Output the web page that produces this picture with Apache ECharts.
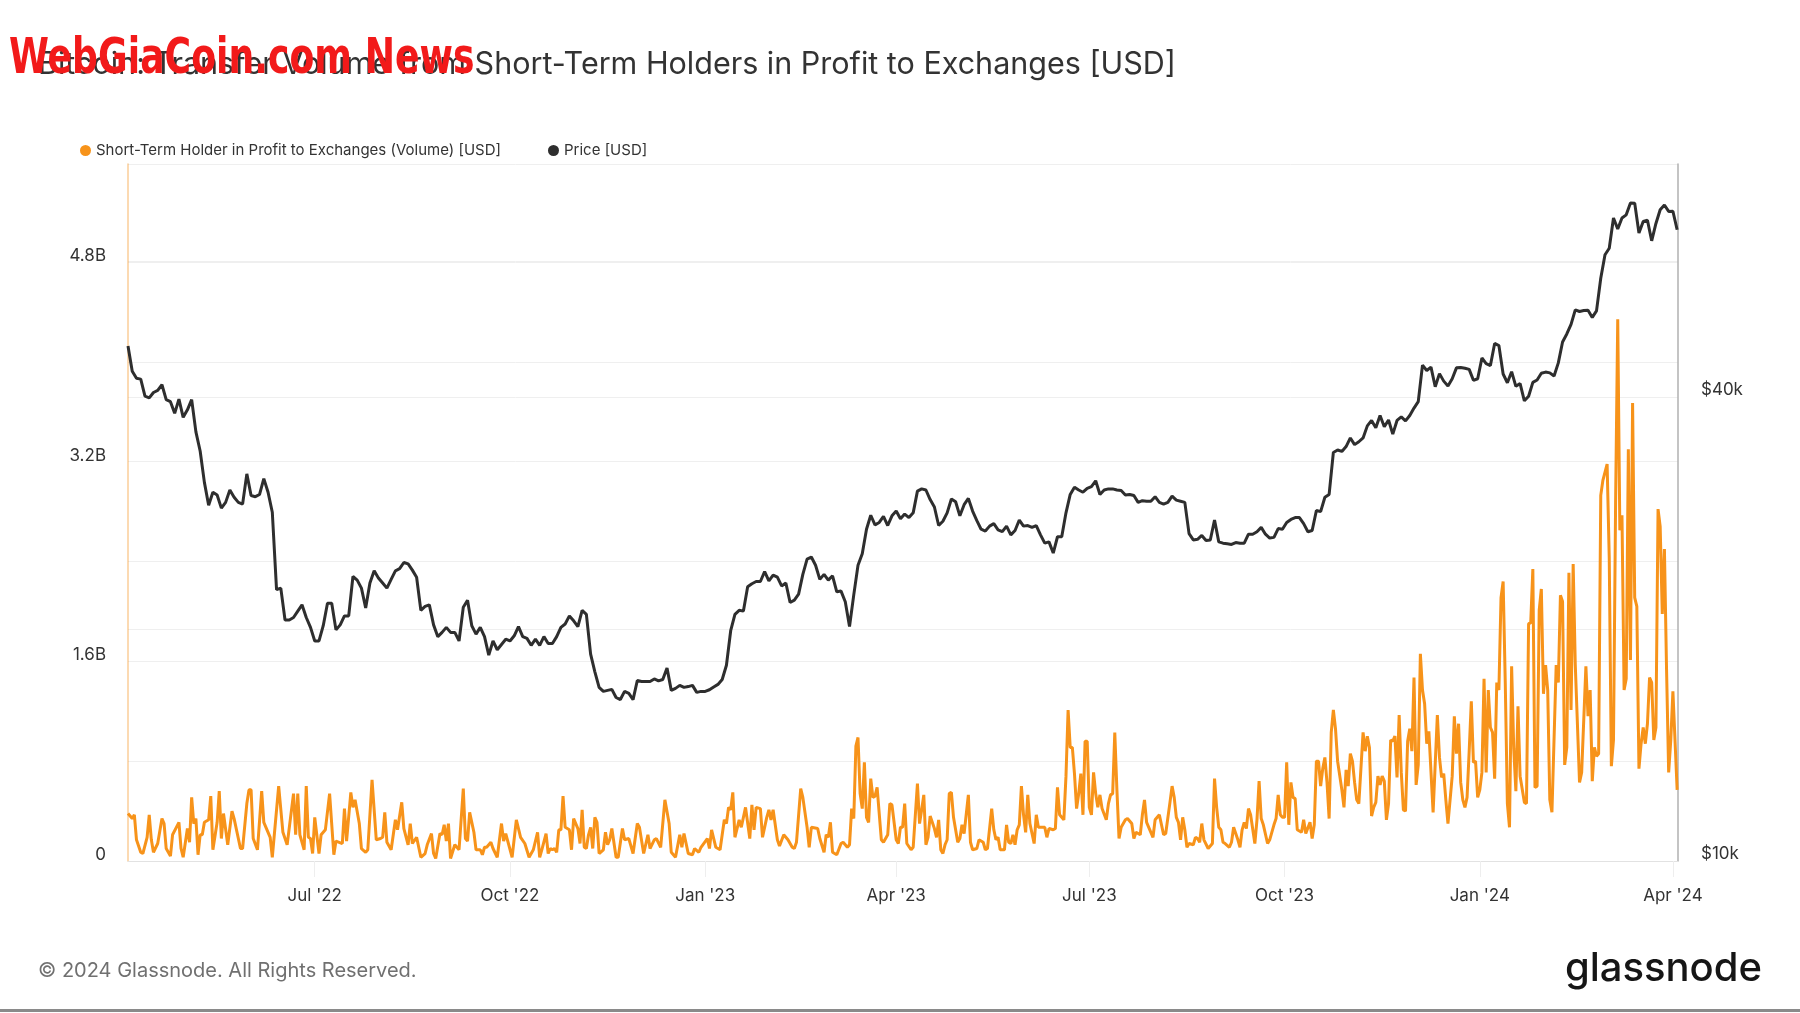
<!DOCTYPE html>
<html>
<head>
<meta charset="utf-8">
<script src="https://cdn.jsdelivr.net/npm/echarts@6/dist/echarts.min.js"></script>
<style>
html,body{margin:0;padding:0;background:#ffffff;}
#chart{width:1800px;height:1013px;}
</style>
</head>
<body>
<div id="chart"></div>
<script>
// ---------------- DATA ----------------
const chartTitle = 'Bitcoin: Transfer Volume from Short-Term Holders in Profit to Exchanges [USD]';
const seriesNames = ['Short-Term Holder in Profit to Exchanges (Volume) [USD]', 'Price [USD]'];
const startDate = '2022-04-04';
const endDayOffset = 730.4;
const xTickDates = ['2022-07-01','2022-10-01','2023-01-01','2023-04-01','2023-07-01','2023-10-01','2024-01-01','2024-04-01'];
const xTickLabels = ["Jul '22","Oct '22","Jan '23","Apr '23","Jul '23","Oct '23","Jan '24","Apr '24"];
const volTickValuesB = [0, 1.6, 3.2, 4.8];
const volTickLabels = ['0', '1.6B', '3.2B', '4.8B'];
const priceTickValues = [10000, 40000];
const priceTickLabels = ['$10k', '$40k'];
const priceGridValues = [10000, 20000, 40000, 60000];

// Short-term holder in profit -> exchanges volume, [day offset from start, billions USD]
const volumeByDay = [
[0,0.38],[2,0.34],[3,0.37],[4,0.17],[6,0.07],[7,0.06],[9,0.19],[10,0.37],[11,0.17],[12,0.07],
[14,0.14],[16,0.34],[17,0.30],[18,0.10],[20,0.04],[21,0.21],[24,0.31],[25,0.10],[26,0.03],[28,0.26],
[29,0.15],[30,0.51],[31,0.30],[32,0.34],[33,0.05],[34,0.21],[35,0.21],[36,0.31],[38,0.33],[39,0.52],
[40,0.09],[42,0.31],[43,0.56],[44,0.18],[45,0.38],[47,0.13],[49,0.40],[50,0.34],[53,0.10],[54,0.10],
[56,0.46],[57,0.57],[58,0.57],[59,0.18],[61,0.09],[63,0.56],[64,0.31],[65,0.27],[67,0.19],[68,0.03],
[71,0.60],[73,0.23],[75,0.13],[78,0.54],[79,0.21],[80,0.54],[81,0.21],[83,0.09],[84,0.60],[85,0.19],
[86,0.18],[87,0.06],[88,0.35],[90,0.06],[91,0.21],[93,0.25],[95,0.54],[97,0.05],[98,0.16],[101,0.14],
[102,0.42],[103,0.16],[105,0.55],[106,0.43],[107,0.49],[109,0.30],[110,0.10],[112,0.07],[113,0.09],[115,0.65],
[117,0.17],[119,0.18],[120,0.19],[121,0.39],[122,0.15],[124,0.09],[126,0.33],[127,0.25],[129,0.47],[130,0.26],
[132,0.13],[133,0.30],[134,0.14],[136,0.19],[138,0.03],[140,0.06],[141,0.13],[143,0.22],[144,0.06],[145,0.02],
[147,0.22],[148,0.21],[149,0.29],[150,0.16],[151,0.30],[152,0.02],[154,0.13],[156,0.09],[158,0.58],[159,0.18],
[160,0.16],[161,0.39],[163,0.23],[164,0.09],[166,0.09],[167,0.05],[168,0.11],[169,0.11],[171,0.15],[172,0.10],
[174,0.03],[176,0.30],[177,0.16],[178,0.22],[181,0.03],[183,0.33],[185,0.19],[187,0.14],
[189,0.03],[191,0.09],[193,0.23],[194,0.03],[195,0.09],[197,0.22],[198,0.06],[199,0.10],[200,0.09],[201,0.10],
[202,0.07],[203,0.25],[204,0.25],[205,0.52],[206,0.27],[208,0.25],[209,0.09],[210,0.34],[212,0.26],[213,0.14],
[214,0.41],[215,0.11],[216,0.10],[217,0.21],[218,0.27],[219,0.10],[220,0.35],[221,0.31],[222,0.06],[224,0.09],
[225,0.23],[226,0.13],[227,0.17],[228,0.26],[230,0.03],[231,0.03],[233,0.26],[234,0.17],[236,0.18],[238,0.06],
[240,0.30],[241,0.27],[243,0.06],[245,0.21],[246,0.10],[248,0.17],[249,0.18],[251,0.11],[253,0.49],[255,0.30],
[256,0.07],[258,0.03],[260,0.21],[261,0.11],[262,0.22],[264,0.06],[266,0.05],[267,0.10],[269,0.07],[270,0.11],
[273,0.18],[274,0.10],[275,0.25],[277,0.11],[279,0.09],[281,0.33],[282,0.30],[283,0.43],[284,0.41],[285,0.55],
[286,0.19],[288,0.33],[289,0.27],[291,0.43],[293,0.18],[294,0.45],[295,0.25],[296,0.43],[298,0.42],[299,0.19],
[301,0.35],[302,0.41],[303,0.33],[304,0.41],[306,0.17],[307,0.12],[309,0.21],[311,0.17],[313,0.11],[314,0.10],
[315,0.15],[317,0.58],[318,0.51],[320,0.27],[321,0.11],[322,0.27],[325,0.26],[326,0.18],[328,0.07],[329,0.21],
[330,0.19],[331,0.31],[332,0.07],[334,0.05],[336,0.14],[337,0.15],[339,0.11],[340,0.13],[341,0.42],[342,0.34],
[343,0.92],[344,0.99],[345,0.54],[346,0.42],[347,0.79],[348,0.35],[349,0.31],[350,0.66],[351,0.51],[352,0.52],
[353,0.59],[355,0.17],[356,0.15],[358,0.21],[359,0.46],[360,0.45],[362,0.17],[363,0.14],[364,0.27],[365,0.27],
[366,0.46],[367,0.14],[369,0.09],[370,0.11],[372,0.62],[373,0.30],
[374,0.41],[375,0.53],[376,0.13],[377,0.19],[378,0.36],[380,0.26],[381,0.19],[382,0.33],[383,0.09],[384,0.06],
[385,0.13],[386,0.17],[387,0.54],[388,0.55],[389,0.35],[391,0.15],[392,0.18],[393,0.29],[394,0.22],[396,0.53],
[397,0.15],[398,0.09],[400,0.10],[401,0.17],[403,0.15],[404,0.09],[405,0.10],[407,0.42],[408,0.25],[409,0.17],
[410,0.19],[411,0.09],[413,0.09],[414,0.29],[415,0.15],[416,0.14],[417,0.21],[418,0.13],[419,0.25],[420,0.29],
[421,0.60],[422,0.37],[423,0.23],[424,0.53],[425,0.30],[427,0.14],[428,0.37],[429,0.27],[430,0.27],[432,0.27],
[433,0.19],[434,0.26],[436,0.25],[437,0.26],[438,0.59],[439,0.37],[441,0.33],[442,0.68],[443,1.21],[444,0.91],
[445,0.91],[446,0.70],[447,0.42],[448,0.54],[449,0.70],[450,0.37],[451,0.96],[452,0.96],[453,0.43],[454,0.37],
[455,0.71],[456,0.54],[457,0.43],[458,0.53],[459,0.42],[461,0.33],[462,0.46],[463,0.53],[464,0.54],[465,1.03],
[466,0.57],[467,0.18],[468,0.27],[470,0.33],[471,0.34],[473,0.30],[474,0.18],[475,0.23],[477,0.21],[478,0.37],
[479,0.49],[480,0.31],[482,0.23],[483,0.19],[484,0.33],[486,0.37],[487,0.29],[488,0.21],[489,0.22],[491,0.47],
[492,0.60],[493,0.51],[494,0.35],[495,0.31],[496,0.17],[497,0.35],[498,0.25],[499,0.11],[500,0.14],[502,0.13],
[503,0.19],[504,0.18],[505,0.15],[506,0.30],[507,0.17],[509,0.10],[511,0.14],[512,0.66],[513,0.43],[514,0.27],
[515,0.25],[516,0.15],[517,0.14],[519,0.11],[520,0.15],[521,0.27],[522,0.22],[523,0.17],[524,0.11],[525,0.25],
[526,0.31],[527,0.26],[528,0.42],[529,0.37],[531,0.14],[532,0.33],[533,0.64],[534,0.34],[535,0.29],[537,0.14],
[538,0.17],[540,0.29],[541,0.34],[542,0.53],[543,0.37],[544,0.35],[545,0.35],[546,0.79],[547,0.29],[548,0.63],
[549,0.51],[550,0.50],[551,0.25],[553,0.23],[554,0.33],[555,0.22],[557,0.31],
[558,0.18],[559,0.29],[560,0.80],[561,0.80],[562,0.60],[563,0.74],[564,0.83],[565,0.63],[566,0.34],[567,1.03],
[568,1.21],[569,1.06],[570,0.80],[572,0.57],[573,0.43],[574,0.73],[575,0.60],[576,0.86],[577,0.80],[578,0.63],
[579,0.49],[580,0.46],[582,1.03],[583,0.88],[584,1.00],[585,0.91],[586,0.36],[587,0.43],[588,0.47],[589,0.68],
[590,0.61],[591,0.68],[592,0.64],[593,0.33],[594,0.46],[595,0.97],[596,0.96],[597,1.00],[598,0.67],[599,1.17],
[600,0.71],[601,0.41],[602,0.40],[603,0.96],[604,1.06],[605,0.88],[606,1.47],[607,0.61],[608,0.77],[609,1.66],
[610,1.37],[611,1.26],[612,0.94],[613,1.04],[615,0.39],[617,1.17],[618,0.83],[619,0.67],[620,0.70],[621,0.49],
[622,0.30],[624,0.68],[625,1.16],[626,0.86],[627,1.10],[628,0.63],[629,0.49],[630,0.43],[631,0.51],[632,0.88],
[633,1.28],[634,0.79],[635,0.80],[636,0.51],[637,0.57],[638,0.71],[639,1.46],[640,0.71],[641,1.37],[642,1.07],
[643,1.03],[644,0.66],[645,1.43],[646,1.37],[647,2.11],[648,2.24],[649,1.43],[650,0.46],[651,0.27],[652,1.56],
[653,0.90],[654,0.56],[655,1.24],[656,0.68],[658,0.47],[659,0.46],[660,1.90],[661,1.91],[662,2.34],[663,0.59],
[664,0.60],[665,2.01],[666,2.18],[667,1.34],[668,1.57],[669,1.37],[670,0.49],[671,0.39],[673,1.57],[674,1.43],
[675,2.13],[676,2.08],[677,0.77],[678,0.91],[679,2.31],[680,1.21],[681,2.38],[682,1.57],[684,0.63],[685,0.71],
[687,1.56],[688,1.16],[689,1.37],[690,0.64],[691,0.91],[692,0.84],[693,0.86],[694,2.93],[695,3.05],[697,3.18],
[698,2.43],[699,0.76],[700,0.97],[701,2.88],[702,4.34],[703,2.65],[704,2.77],[705,1.37],[706,1.46],[707,3.30],
[708,1.61],[709,3.67],[710,2.11],[711,2.04],[712,0.74],[713,0.94],[714,1.07],[715,0.94],[716,1.10],[717,1.47],
[718,1.43],[719,0.97],[720,1.07],[721,2.82],[722,2.68],[723,1.98],[724,2.50],[725,1.54],[726,0.71],[727,0.97],
[728,1.36],[730,0.57]
];

// BTC price (USD), one value every 2 days from startDate
const priceStepDays = 2;
const priceUsd = [
46600,43200,42300,42200,40100,39900,40550,40800,41500,39700,39450,38100,39750,37650,
38500,39700,36050,34050,31000,28950,30100,29850,28700,29200,30300,29650,29200,29050,31800,
29800,29700,29900,31350,30100,28350,22500,22600,20550,20550,20700,21100,21500,20700,20100,
19300,19300,20200,21600,21600,19950,20250,20800,20800,23400,23150,22600,21300,22950,23800,23300,
22950,22600,23200,23800,23950,24400,24300,23850,23350,21150,21400,21500,20250,19550,19800,
20100,19800,19800,19300,21350,21800,20200,19700,20100,19550,18500,19300,18800,19100,19400,
19300,19600,20150,19550,19450,19050,19400,19050,19550,19150,19150,19550,20100,20300,20800,20500,
20150,21150,20900,18550,17600,16800,16600,16650,16700,16300,16200,16600,16500,16200,17150,
17100,17100,17100,17230,17130,17200,17800,16650,16750,16900,16800,16840,16900,16550,16600,
16600,16680,16820,16950,17200,17950,19900,20900,21150,21100,22700,22900,23050,23050,23750,23100,
23500,23350,22750,22950,21650,21800,22200,23550,24650,24800,24200,23200,23550,23150,
23450,22350,22400,21700,20150,22150,24200,25050,26950,28100,27300,27500,28000,27250,28050,
28450,27800,28200,27900,28300,30200,30400,30300,29450,28800,27250,27600,28300,29500,29250,
28050,29000,29550,28450,27650,26950,26800,27200,27400,26900,26750,27200,26500,26850,27700,27200,
27250,27100,27250,26500,25850,25950,25100,26350,26350,28300,29900,30550,30300,30100,30450,
30600,31150,29900,30300,30400,30400,30300,30250,29850,29900,29800,29200,29350,29300,29300,
29700,29200,29050,29200,29750,29400,29300,29200,26600,26100,26150,26450,26050,26100,27700,25950,
25850,25800,25750,25900,25850,25850,26550,26550,26750,27100,26550,26250,26300,27000,26950,
27500,27750,27900,27900,27400,26750,26850,28500,28400,29650,29900,33900,34150,34000,34500,
35400,34700,35000,35400,36700,37300,36500,37850,36600,37350,35800,37300,37700,37250,37850,
38700,39450,44000,43300,43750,41250,42900,41950,41350,42250,43650,43700,43600,43450,42050,42250,
44950,44200,43950,46950,46650,42850,41750,43150,41300,41650,39550,40100,41800,42100,42950,
43100,43000,42600,44300,47150,48300,49700,51900,51650,51800,51850,50750,51750,57050,61200,
62400,68300,66100,68300,68950,71450,71400,65300,67600,67850,63800,67200,70000,71000,69650,
69700,65950
];

// ---------------- BUILD ----------------
const DAY_MS = 86400000;
const startMs = Date.parse(startDate + 'T00:00:00Z');
const dayToTime = d => startMs + d * DAY_MS;
const volumeData = volumeByDay.map(p => [dayToTime(p[0]), p[1] * 1e9]);
const priceData = priceUsd.map((p, i) => [dayToTime(i * priceStepDays), p]);
const xTickTimes = xTickDates.map(s => Date.parse(s + 'T00:00:00Z'));

const FONT = 'Inter, "Noto Sans", sans-serif';
const ORANGE = '#f7931a';
const DARK = '#2e2e2e';

const chart = echarts.init(document.getElementById('chart'), null, {renderer: 'canvas'});
chart.setOption({
  animation: false,
  backgroundColor: '#ffffff',
  title: {
    text: chartTitle,
    left: 38, top: 49, padding: 0,
    textStyle: {fontFamily: FONT, fontSize: 30.5, fontWeight: 400, color: '#333333'}
  },
  legend: {
    left: 80, top: 143, padding: 0,
    icon: 'circle', itemWidth: 11, itemHeight: 11, itemGap: 47,
    textStyle: {fontFamily: FONT, fontSize: 15, color: '#333333'},
    data: [
      {name: seriesNames[0], itemStyle: {color: ORANGE}},
      {name: seriesNames[1], itemStyle: {color: DARK}}
    ]
  },
  grid: {left: 128, right: 122, top: 164, bottom: 152, containLabel: false},
  xAxis: {
    type: 'value',
    min: dayToTime(0),
    max: dayToTime(endDayOffset),
    axisLine: {show: true, lineStyle: {color: '#e2e2e2', width: 1}},
    axisTick: {show: true, customValues: xTickTimes, length: 16, lineStyle: {color: '#eeeeee'}},
    splitLine: {show: false},
    axisLabel: {
      customValues: xTickTimes,
      margin: 26,
      fontFamily: FONT, fontSize: 17, color: '#333333',
      formatter: function (v) {
        for (let i = 0; i < xTickTimes.length; i++) {
          if (Math.abs(xTickTimes[i] - v) < DAY_MS / 2) return xTickLabels[i];
        }
        return '';
      }
    }
  },
  yAxis: [
    {
      type: 'value',
      position: 'left',
      min: 0,
      max: 5.585e9,
      interval: 0.8e9,
      axisLine: {show: true, lineStyle: {color: 'rgba(247,147,26,0.45)', width: 1.5}},
      axisTick: {show: false},
      splitLine: {show: true, lineStyle: {color: '#efefef', width: 1}},
      axisLabel: {
        showMaxLabel: false,
        margin: 22,
        fontFamily: FONT, fontSize: 17, color: '#333333',
        verticalAlign: 'bottom', lineHeight: 12,
        formatter: function (v) {
          for (let i = 0; i < volTickValuesB.length; i++) {
            if (Math.abs(volTickValuesB[i] * 1e9 - v) < 1e6) return volTickLabels[i];
          }
          return '';
        }
      }
    },
    {
      type: 'log',
      logBase: 10,
      position: 'right',
      min: 10000,
      max: 80260,
      axisLine: {show: true, lineStyle: {color: '#b0b0b0', width: 1.5}},
      axisTick: {show: false, customValues: priceGridValues},
      splitLine: {show: true, lineStyle: {color: '#efefef', width: 1}},
      axisLabel: {
        customValues: priceTickValues,
        margin: 23,
        fontFamily: FONT, fontSize: 17, color: '#333333',
        verticalAlign: 'bottom', lineHeight: 14,
        formatter: function (v) {
          for (let i = 0; i < priceTickValues.length; i++) {
            if (Math.abs(priceTickValues[i] - v) < 1) return priceTickLabels[i];
          }
          return '';
        }
      }
    }
  ],
  series: [
    {
      name: seriesNames[0],
      type: 'line',
      yAxisIndex: 0,
      data: volumeData,
      showSymbol: false,
      symbol: 'none',
      color: ORANGE,
      lineStyle: {color: ORANGE, width: 3},
      z: 2
    },
    {
      name: seriesNames[1],
      type: 'line',
      yAxisIndex: 1,
      data: priceData,
      showSymbol: false,
      symbol: 'none',
      color: DARK,
      lineStyle: {color: DARK, width: 3},
      z: 3
    }
  ],
  graphic: [
    {
      type: 'text', x: 9, y: 35, scaleX: 0.805, z: 100,
      style: {
        text: 'WebGiaCoin.com News',
        font: 'bold 50px "Liberation Sans Narrow", "DejaVu Sans Condensed", "Liberation Sans", sans-serif',
        fill: '#f21a1a',
        verticalAlign: 'top'
      }
    },
    {
      type: 'text', left: 38, top: 961,
      style: {text: '\u00a9 2024 Glassnode. All Rights Reserved.', font: '20px ' + FONT, fill: '#707070'}
    },
    {
      type: 'text', right: 38, top: 949,
      style: {text: 'glassnode', font: '500 40px ' + FONT, fill: '#161616'}
    },
    {
      type: 'rect', left: 0, top: 1009, shape: {width: 1800, height: 3}, style: {fill: '#8a8a8a'}
    }
  ]
});
</script>
</body>
</html>
